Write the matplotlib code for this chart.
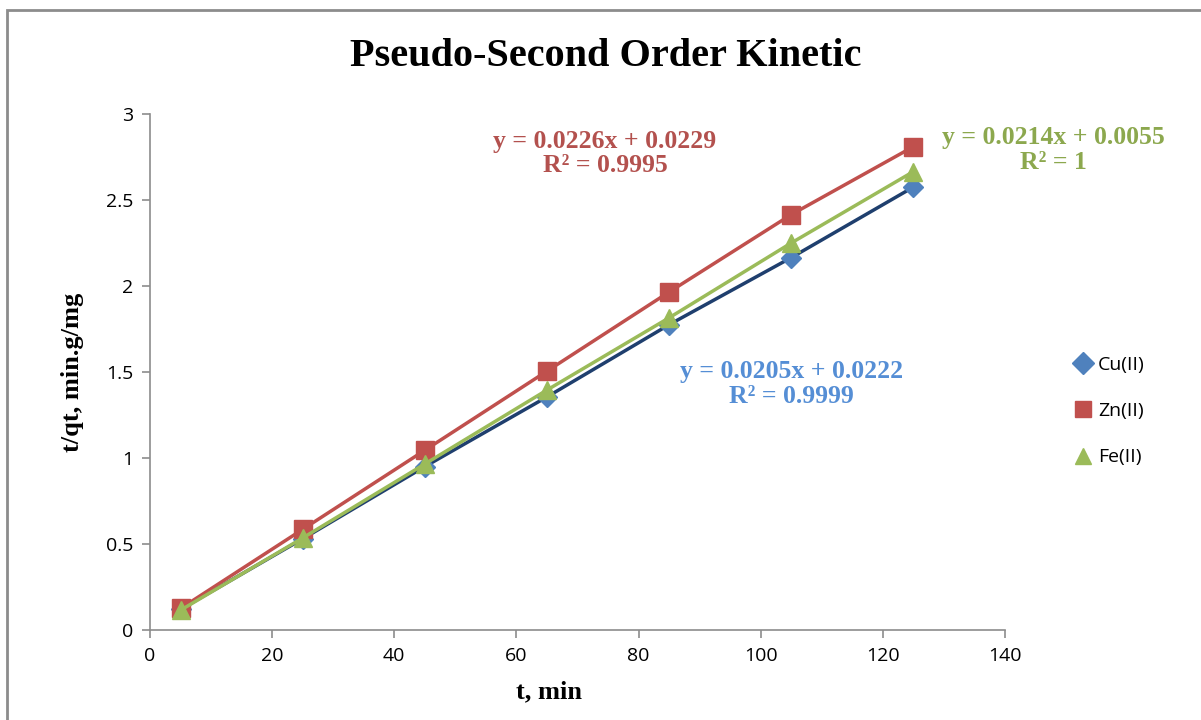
import matplotlib.pyplot as plt
from matplotlib.patches import Rectangle

# contact time, min
t = [5, 25, 45, 65, 85, 105, 125]

# t/qt values
cu = [0.12, 0.53, 0.95, 1.355, 1.775, 2.165, 2.575]
zn = [0.125, 0.585, 1.045, 1.505, 1.965, 2.415, 2.81]
fe = [0.115, 0.535, 0.965, 1.395, 1.815, 2.25, 2.665]

labels = ["Cu(II)", "Zn(II)", "Fe(II)"]
equations = [
    "y = 0.0205x + 0.0222\nR² = 0.9999",
    "y = 0.0226x + 0.0229\nR² = 0.9995",
    "y = 0.0214x + 0.0055\nR² = 1",
]

serif = "Liberation Serif"
sans = "Open Sans"

fig = plt.figure(figsize=(12.01, 7.2), dpi=100)
ax = fig.add_axes([0.1249, 0.125, 0.7119, 0.7167])

# outer chart border
fig.patches.append(Rectangle((7 / 1201, -0.1), 1.2, 1 - 10 / 720 + 0.1,
                             transform=fig.transFigure, fill=False,
                             edgecolor="#8c8c8c", linewidth=2))

ax.plot(t, cu, color="#1F3F6E", linewidth=2.5, marker="D", markersize=10,
        markerfacecolor="#4F81BD", markeredgecolor="#4F81BD", label=labels[0])
ax.plot(t, zn, color="#C0504D", linewidth=2.5, marker="s", markersize=13,
        markerfacecolor="#C0504D", markeredgecolor="#C0504D", label=labels[1])
ax.plot(t, fe, color="#9BBB59", linewidth=2.5, marker="^", markersize=13,
        markerfacecolor="#9BBB59", markeredgecolor="#9BBB59", label=labels[2])

ax.set_xlim(0, 140)
ax.set_ylim(0, 3)
ax.set_xticks(range(0, 141, 20))
ax.set_yticks([0, 0.5, 1, 1.5, 2, 2.5, 3])
ax.set_yticklabels(["0", "0.5", "1", "1.5", "2", "2.5", "3"])

for side in ["top", "right"]:
    ax.spines[side].set_visible(False)
for side in ["left", "bottom"]:
    ax.spines[side].set_color("#8c8c8c")
    ax.spines[side].set_linewidth(1.2)
ax.tick_params(direction="out", length=6, color="#8c8c8c", width=1.2,
               labelsize=14, pad=6)
for lab in ax.get_xticklabels() + ax.get_yticklabels():
    lab.set_fontfamily(sans)

ax.set_xlabel("t, min", fontfamily=serif, fontweight="bold", fontsize=19)
ax.set_ylabel("t/qt, min.g/mg", fontfamily=serif, fontweight="bold", fontsize=19)
ax.xaxis.set_label_coords(0.467, -0.097)
ax.yaxis.set_label_coords(-0.077, 0.5)
fig.text(606 / 1201, 1 - 57 / 720, "Pseudo-Second Order Kinetic", ha="center",
         va="center", fontfamily=serif, fontweight="bold", fontsize=29)

ax.text(105, 1.43, equations[0], color="#558ED5", ha="center", va="center",
        fontfamily=serif, fontweight="bold", fontsize=18.5, linespacing=1.1)
ax.text(74.5, 2.77, equations[1], color="#B3514E", ha="center", va="center",
        fontfamily=serif, fontweight="bold", fontsize=18.5, linespacing=1.1)
ax.text(148, 2.79, equations[2], color="#8CA84E", ha="center", va="center",
        fontfamily=serif, fontweight="bold", fontsize=18.5, linespacing=1.1,
        clip_on=False)

leg = ax.legend(loc="center left", bbox_to_anchor=(1.059, 0.424), frameon=False,
                handlelength=1.0, handletextpad=0.3, labelspacing=1.45,
                prop={"family": sans, "size": 14})
for h in leg.legend_handles:
    h.set_linestyle("none")
    h.set_markersize(11)

fig.savefig("out.png", dpi=100)
